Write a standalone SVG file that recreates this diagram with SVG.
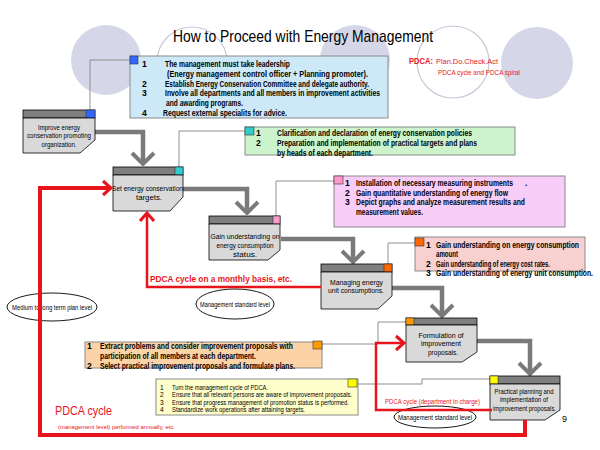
<svg xmlns="http://www.w3.org/2000/svg" width="600" height="450" viewBox="0 0 600 450">
<style>
text{font-family:"Liberation Sans",Arial,sans-serif;fill:#000}
.bg{fill:#d6d6e9}
.bgo{fill:#fff;stroke:#c9c9da;stroke-width:1.2}
.t{font-size:8.6px;font-weight:bold}
.tn{font-size:7.5px}
.ts{font-size:6.6px}
.hd{fill:#7f7f7f;stroke:#000;stroke-width:0.8}
.bd{fill:#d9d9d9;stroke:#000;stroke-width:0.8}
.box{stroke:#8a8a8a;stroke-width:1}
.sq{stroke:#333;stroke-width:0.6}
.thin{fill:none;stroke:#8f8f8f;stroke-width:1}
.thick{fill:none;stroke:#7a7a7a;stroke-width:4.5;marker-end:url(#gv)}
.red{fill:none;stroke:#e8141c}
.rt{fill:#e8141c;stroke:none}
.ell{fill:none;stroke:#000;stroke-width:0.9}
.c{text-anchor:middle}
</style>
<defs>
<marker id="gv" markerUnits="userSpaceOnUse" viewBox="-16 -14 18 28" refX="0" refY="0" markerWidth="18" markerHeight="28" orient="auto">
<path d="M-11,-11 L0,0 L-11,11" fill="none" stroke="#7a7a7a" stroke-width="4"/>
</marker>
<marker id="rv" markerUnits="userSpaceOnUse" viewBox="-12 -10 14 20" refX="0" refY="0" markerWidth="14" markerHeight="20" orient="auto">
<path d="M-8,-7 L0,0 L-8,7" fill="none" stroke="#e8141c" stroke-width="3"/>
</marker>
</defs>
<rect width="600" height="450" fill="#fff"/>
<g id="background">
<circle class="bg" cx="106" cy="60" r="35"/>
<circle class="bgo" cx="192" cy="62" r="35"/>
<circle class="bg" cx="355" cy="60" r="35"/>
<circle class="bgo" cx="453" cy="62" r="36"/>
<circle class="bg" cx="537" cy="63" r="36"/>
</g>
<text x="173" y="42" font-size="17" textLength="260" lengthAdjust="spacingAndGlyphs">How to Proceed with Energy Management</text>
<g id="pdca-legend">
<text class="rt" x="409" y="64" font-size="8.5" font-weight="bold" textLength="24" lengthAdjust="spacingAndGlyphs">PDCA:</text>
<text class="rt" x="436" y="64" font-size="6.5" textLength="62" lengthAdjust="spacingAndGlyphs">Plan.Do.Check.Act</text>
<text class="rt" x="438" y="75" font-size="6.5" textLength="82" lengthAdjust="spacingAndGlyphs">PDCA cycle and PDCA spiral</text>
</g>
<g id="connectors">
<path class="thin" d="M130,60 H90 V110"/>
<path class="thin" d="M179,167 V131 H245"/>
<path class="thin" d="M276,216 V181 H334"/>
<path class="thin" d="M388,264 V243 H415"/>
<path class="thin" d="M322,344 H378 V322 H406"/>
<path class="thin" d="M357,384 H422 V379 H490"/>
<path class="thick" d="M95,132 H143 V164"/>
<path class="thick" d="M183,189 H247 V213"/>
<path class="thick" d="M281,239 H353 V262"/>
<path class="thick" d="M392,288 H442 V316"/>
<path class="thick" d="M477,341 H530 V374"/>
</g>
<g id="ellipses">
<ellipse class="ell" cx="52" cy="307" rx="45" ry="14"/>
<text class="ts c" x="52" y="309.5" textLength="80" lengthAdjust="spacingAndGlyphs">Medium to long term plan level</text>
<ellipse class="ell" cx="235" cy="304" rx="39" ry="15"/>
<text class="ts c" x="235" y="306.5" textLength="70" lengthAdjust="spacingAndGlyphs">Management standard level</text>
<ellipse class="ell" cx="435" cy="417" rx="41" ry="11"/>
<text class="ts c" x="435" y="419.5" textLength="74" lengthAdjust="spacingAndGlyphs">Management standard level</text>
</g>
<g id="node-improve">
<rect class="hd" x="23" y="110" width="72" height="8"/>
<rect class="sq" x="86" y="110" width="9" height="8" fill="#3366ff"/>
<path class="bd" d="M23,118 H95 V140 L80,153 H23 Z"/>
<text class="tn c" x="59" y="129.5" textLength="42" lengthAdjust="spacingAndGlyphs">Improve energy</text>
<text class="tn c" x="59" y="138" textLength="64" lengthAdjust="spacingAndGlyphs">conservation promoting</text>
<text class="tn c" x="59" y="146.5" textLength="35" lengthAdjust="spacingAndGlyphs">organization.</text>
</g>
<g id="node-set">
<rect class="hd" x="113" y="167" width="70" height="8"/>
<rect class="sq" x="175" y="167" width="8" height="8" fill="#33cccc"/>
<path class="bd" d="M113,175 H183 V197 L170,211 H113 Z"/>
<text class="tn c" x="147.5" y="191" textLength="71" lengthAdjust="spacingAndGlyphs">Set energy conservation</text>
<text class="tn c" x="149" y="200" textLength="26" lengthAdjust="spacingAndGlyphs">targets.</text>
</g>
<g id="node-gain">
<rect class="hd" x="209" y="216" width="71" height="8"/>
<rect class="sq" x="273" y="216" width="7" height="8" fill="#ff99cc"/>
<path class="bd" d="M209,224 H280 V250 L268,260 H209 Z"/>
<text class="tn c" x="245" y="238.5" textLength="69" lengthAdjust="spacingAndGlyphs">Gain understanding on</text>
<text class="tn c" x="245" y="248" textLength="57" lengthAdjust="spacingAndGlyphs">energy consumption</text>
<text class="tn c" x="245" y="257" textLength="24" lengthAdjust="spacingAndGlyphs">status.</text>
</g>
<g id="node-managing">
<rect class="hd" x="321" y="264" width="71" height="8"/>
<rect class="sq" x="384" y="264" width="8" height="8" fill="#ff6600"/>
<path class="bd" d="M321,272 H392 V296 L378,309 H321 Z"/>
<text class="tn c" x="356.5" y="284.5" textLength="53" lengthAdjust="spacingAndGlyphs">Managing energy</text>
<text class="tn c" x="356" y="293" textLength="56" lengthAdjust="spacingAndGlyphs">unit consumptions.</text>
</g>
<g id="node-formulation">
<rect class="hd" x="406" y="318" width="71" height="7"/>
<rect class="sq" x="406" y="318" width="8" height="7" fill="#ff9900"/>
<path class="bd" d="M406,325 H477 V352 L462,362 H406 Z"/>
<text class="tn c" x="441" y="337.5" textLength="45" lengthAdjust="spacingAndGlyphs">Formulation of</text>
<text class="tn c" x="441" y="346" textLength="40" lengthAdjust="spacingAndGlyphs">improvement</text>
<text class="tn c" x="443" y="355" textLength="30" lengthAdjust="spacingAndGlyphs">proposals.</text>
</g>
<g id="node-practical">
<rect class="hd" x="490" y="376" width="70" height="8"/>
<rect class="sq" x="490" y="376" width="8" height="8" fill="#ffff00"/>
<path class="bd" d="M490,384 H560 V410 L545,420 H490 Z"/>
<text class="tn c" x="524" y="393.5" textLength="59" lengthAdjust="spacingAndGlyphs">Practical planning and</text>
<text class="tn c" x="524" y="402" textLength="48" lengthAdjust="spacingAndGlyphs">implementation of</text>
<text class="tn c" x="524.5" y="410.5" textLength="63" lengthAdjust="spacingAndGlyphs">improvement proposals.</text>
</g>
<g id="box-blue">
<rect class="box" x="130" y="56" width="258" height="62" fill="#cde9f8"/>
<rect class="sq" x="130" y="56" width="8" height="8" fill="#3366ff"/>
<text class="t" x="142" y="67">1</text>
<text class="t" x="165" y="67" textLength="125" lengthAdjust="spacingAndGlyphs">The management must take leadership</text>
<text class="t" x="167" y="77" textLength="201" lengthAdjust="spacingAndGlyphs">(Energy management control officer + Planning promoter).</text>
<text class="t" x="142" y="86.5">2</text>
<text class="t" x="165" y="86.5" textLength="204" lengthAdjust="spacingAndGlyphs">Establish Energy Conservation Committee and delegate authority.</text>
<text class="t" x="142" y="96">3</text>
<text class="t" x="165" y="96" textLength="215" lengthAdjust="spacingAndGlyphs">Involve all departments and all members in improvement activities</text>
<text class="t" x="166" y="106" textLength="77" lengthAdjust="spacingAndGlyphs">and awarding programs.</text>
<text class="t" x="142" y="116">4</text>
<text class="t" x="163" y="116" textLength="124" lengthAdjust="spacingAndGlyphs">Request external specialits for advice.</text>
</g>
<g id="box-green">
<rect class="box" x="245" y="127" width="270" height="28" fill="#ccf3cc"/>
<rect class="sq" x="245" y="127" width="9" height="8" fill="#33cccc"/>
<text class="t" x="256" y="136">1</text>
<text class="t" x="277" y="136" textLength="195" lengthAdjust="spacingAndGlyphs">Clarification and declaration of energy conservation policies</text>
<text class="t" x="256" y="146">2</text>
<text class="t" x="277" y="146" textLength="200" lengthAdjust="spacingAndGlyphs">Preparation and implementation of practical targets and plans</text>
<text class="t" x="277" y="155.5" textLength="96" lengthAdjust="spacingAndGlyphs">by heads of each department.</text>
</g>
<g id="box-pink">
<rect class="box" x="334" y="176" width="231" height="51" fill="#f8cdf8"/>
<rect class="sq" x="334" y="176" width="9" height="8" fill="#ff99cc"/>
<text class="t" x="345" y="186">1</text>
<text class="t" x="356" y="186"><tspan textLength="157" lengthAdjust="spacingAndGlyphs">Installation of necessary measuring instruments</tspan><tspan x="525">.</tspan></text>
<text class="t" x="345" y="195.5">2</text>
<text class="t" x="356" y="195.5" textLength="152" lengthAdjust="spacingAndGlyphs">Gain quantitative understanding of energy flow</text>
<text class="t" x="345" y="205">3</text>
<text class="t" x="356" y="205" textLength="169" lengthAdjust="spacingAndGlyphs">Depict graphs and analyze measurement results and</text>
<text class="t" x="356" y="215" textLength="67" lengthAdjust="spacingAndGlyphs">measurement values.</text>
</g>
<g id="box-salmon">
<rect class="box" x="415" y="237" width="170" height="34" fill="#f8d0d0"/>
<rect class="sq" x="415" y="238" width="9" height="8" fill="#ff6600"/>
<text class="t" x="426" y="248">1</text>
<text class="t" x="436" y="248" textLength="143" lengthAdjust="spacingAndGlyphs">Gain understanding on energy consumption</text>
<text class="t" x="436" y="257" textLength="22" lengthAdjust="spacingAndGlyphs">amount</text>
<text class="t" x="426" y="266.5">2</text>
<text class="t" x="436" y="266.5" textLength="114" lengthAdjust="spacingAndGlyphs">Gain understanding of energy cost rates.</text>
<text class="t" x="426" y="276">3</text>
<text class="t" x="436" y="276" textLength="157" lengthAdjust="spacingAndGlyphs">Gain understanding of energy unit consumption.</text>
</g>
<g id="box-peach">
<rect class="box" x="85" y="342" width="237" height="26" fill="#fbd3a6"/>
<rect class="sq" x="313" y="341" width="9" height="8" fill="#ff9900"/>
<text class="t" x="87" y="349">1</text>
<text class="t" x="100" y="349" textLength="193" lengthAdjust="spacingAndGlyphs">Extract problems and consider improvement proposals with</text>
<text class="t" x="100" y="358.5" textLength="156" lengthAdjust="spacingAndGlyphs">participation of all members at each department.</text>
<text class="t" x="87" y="368.5">2</text>
<text class="t" x="100" y="368.5" textLength="195" lengthAdjust="spacingAndGlyphs">Select practical improvement proposals and formulate plans.</text>
</g>
<g id="box-yellow">
<rect class="box" x="156" y="379" width="202" height="36" fill="#ffffcc"/>
<rect class="sq" x="348" y="379" width="9" height="8" fill="#ffff00"/>
<text class="ts" x="160" y="389.5">1</text>
<text class="ts" x="172" y="389.5" textLength="96" lengthAdjust="spacingAndGlyphs">Turn the management cycle of PDCA.</text>
<text class="ts" x="160" y="397">2</text>
<text class="ts" x="172" y="397" textLength="180" lengthAdjust="spacingAndGlyphs">Ensure that all relevant persons are aware of improvement proposals.</text>
<text class="ts" x="160" y="404.5">3</text>
<text class="ts" x="172" y="404.5" textLength="177" lengthAdjust="spacingAndGlyphs">Ensure that progress management of promotion status is performed.</text>
<text class="ts" x="160" y="412">4</text>
<text class="ts" x="172" y="412" textLength="133" lengthAdjust="spacingAndGlyphs">Standardize work operations after attaining targets.</text>
</g>
<g id="pdca-cycles">
<path class="red" d="M525,420 V435 H40 V188 H111" stroke-width="4" marker-end="url(#rv)"/>
<path class="red" d="M321,287 H147 V213" stroke-width="2.5" marker-end="url(#rv)"/>
<path class="red" d="M492,410 H376 V343 H404" stroke-width="2.5" marker-end="url(#rv)"/>
<text class="rt" x="150" y="282" font-size="9.5" font-weight="bold" textLength="142" lengthAdjust="spacingAndGlyphs">PDCA cycle on a monthly basis, etc.</text>
<text class="rt" x="55" y="415" font-size="13" textLength="57" lengthAdjust="spacingAndGlyphs">PDCA cycle</text>
<text class="rt" x="58" y="429" font-size="6" textLength="117" lengthAdjust="spacingAndGlyphs">(management level) performed annually, etc.</text>
<text class="rt" x="385" y="404" font-size="6.8" textLength="95" lengthAdjust="spacingAndGlyphs">PDCA cycle (department in charge)</text>
</g>
<text x="562" y="422" font-size="9">9</text>
</svg>
